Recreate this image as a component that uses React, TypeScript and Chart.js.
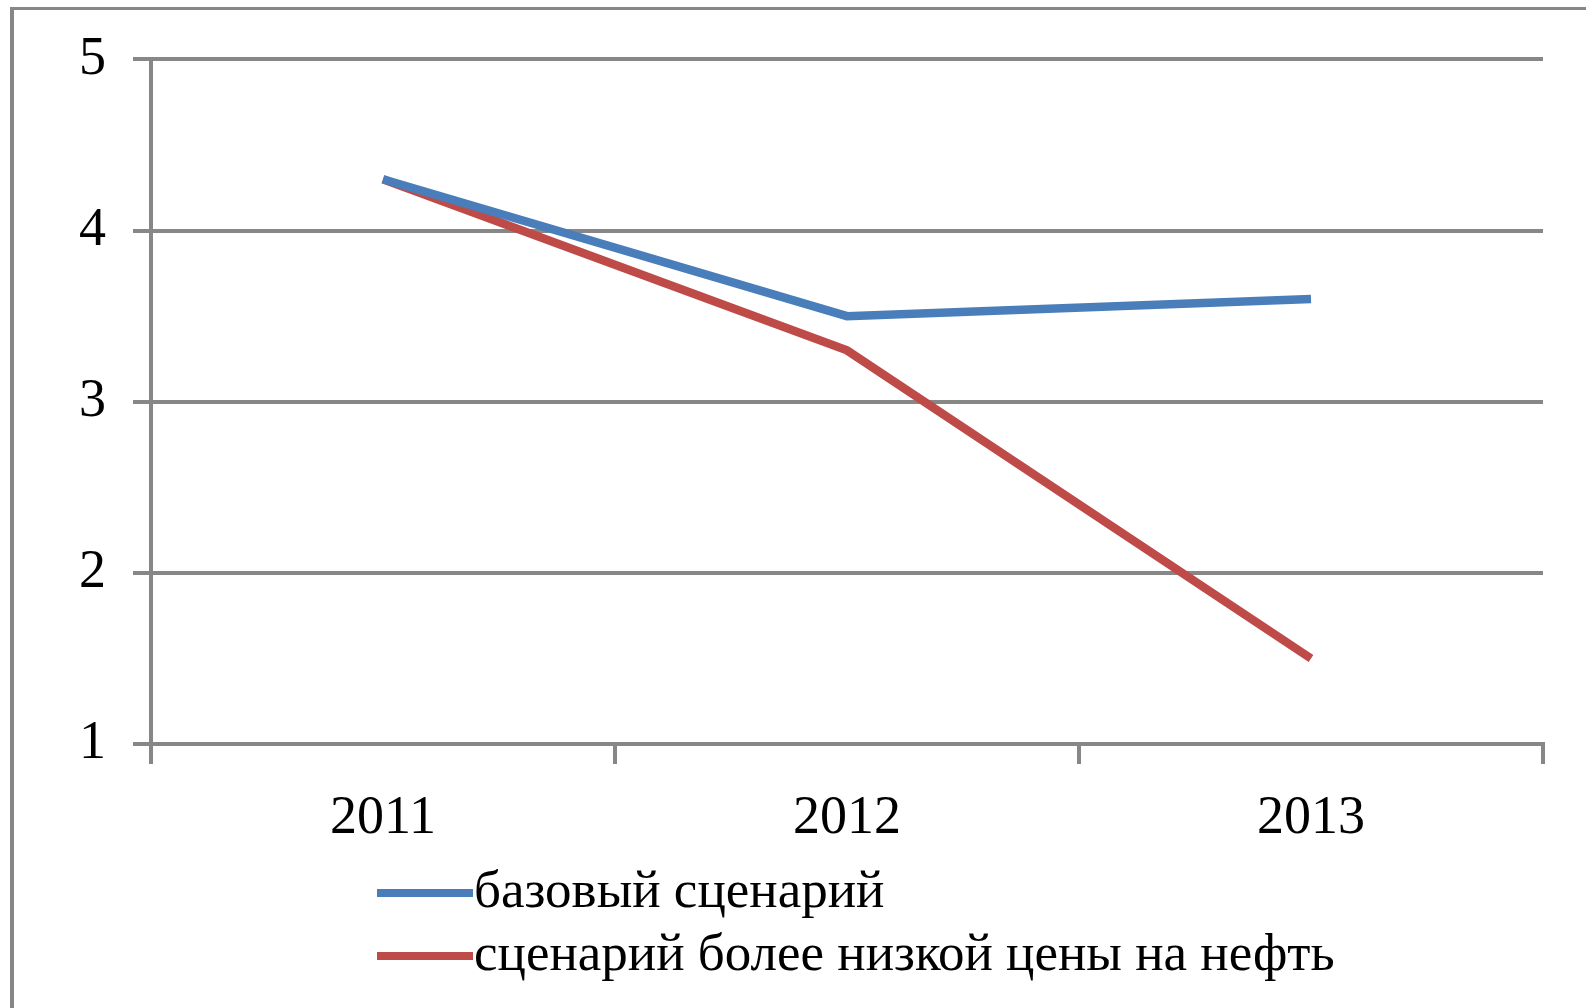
import React, { useEffect, useRef } from "react";
import { Chart, registerables } from "chart.js";

Chart.register(...registerables);

const years = ["2011", "2012", "2013"];
const baseScenario = [4.3, 3.5, 3.6];
const lowOilScenario = [4.3, 3.3, 1.5];
const seriesNames = ["базовый сценарий", "сценарий более низкой цены на нефть"];
const yTicks = [1, 2, 3, 4, 5];

const GRID = "#878787";
const FONT = "'Liberation Serif', 'Times New Roman', serif";

const legendPlugin = {
  id: "stackedLegend",
  afterDraw(chart: any) {
    const ctx = chart.ctx;
    const items = chart.data.datasets;
    const rows = [893, 956];
    ctx.save();
    items.forEach((ds: any, i: number) => {
      const y = rows[i];
      ctx.strokeStyle = ds.borderColor;
      ctx.lineWidth = 8;
      ctx.lineCap = "butt";
      ctx.beginPath();
      ctx.moveTo(377, y);
      ctx.lineTo(473, y);
      ctx.stroke();
      ctx.fillStyle = "#000";
      ctx.font = `53px ${FONT}`;
      ctx.textBaseline = "middle";
      ctx.textAlign = "left";
      ctx.fillText(ds.label, 474, y);
    });
    ctx.restore();
  },
};

export default function App() {
  const ref = useRef<HTMLCanvasElement | null>(null);

  useEffect(() => {
    if (!ref.current) return;
    const chart = new Chart(ref.current, {
      type: "line",
      data: {
        labels: years,
        datasets: [
          {
            label: seriesNames[0],
            data: baseScenario,
            borderColor: "#4A7EBB",
            backgroundColor: "#4A7EBB",
            borderWidth: 8.5,
            pointRadius: 0,
            tension: 0,
          },
          {
            label: seriesNames[1],
            data: lowOilScenario,
            borderColor: "#BE4B48",
            backgroundColor: "#BE4B48",
            borderWidth: 8.5,
            pointRadius: 0,
            tension: 0,
          },
        ],
      },
      options: {
        responsive: false,
        animation: false,
        events: [],
        layout: { padding: { left: 0, top: 58, right: 43, bottom: 0 } },
        plugins: { legend: { display: false }, tooltip: { enabled: false } },
        scales: {
          x: {
            type: "category",
            offset: true,
            grid: {
              offset: true,
              drawOnChartArea: false,
              drawTicks: true,
              tickLength: 20,
              color: GRID,
              lineWidth: 4,
            },
            border: { display: true, color: GRID, width: 4 },
            ticks: {
              color: "#000",
              font: { family: FONT, size: 54 },
              padding: 22,
              maxRotation: 0,
            },
            afterFit(scale: any) {
              scale.height = 264;
            },
          },
          y: {
            min: 1,
            max: 5,
            afterBuildTicks(scale: any) {
              scale.ticks = yTicks.map((v) => ({ value: v }));
            },
            grid: {
              color: GRID,
              lineWidth: 4,
              drawTicks: true,
              tickLength: 18,
            },
            border: { display: true, color: GRID, width: 4 },
            ticks: {
              color: "#000",
              font: { family: FONT, size: 54 },
              padding: 27,
            },
            afterFit(scale: any) {
              scale.width = 151;
            },
          },
        },
      },
      plugins: [legendPlugin],
    });
    return () => chart.destroy();
  }, []);

  return (
    <div
      style={{
        position: "fixed",
        left: 0,
        top: 0,
        width: 1586,
        height: 1008,
        overflow: "hidden",
        background: "#fff",
      }}
    >
      <div
        style={{
          position: "absolute",
          left: 10,
          top: 7,
          width: 1620,
          height: 1040,
          borderLeft: `4px solid ${GRID}`,
          borderTop: `3px solid ${GRID}`,
        }}
      />
      <canvas
        ref={ref}
        width={1586}
        height={1008}
        style={{ position: "absolute", left: 0, top: 0 }}
      />
    </div>
  );
}
